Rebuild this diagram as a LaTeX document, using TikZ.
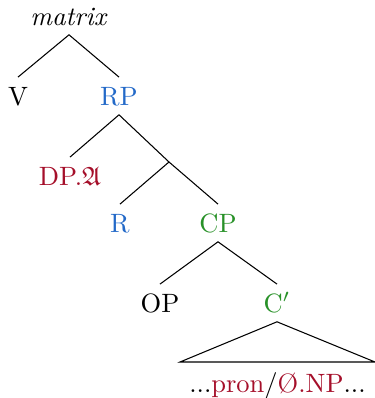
\documentclass[tikz,border=0pt]{standalone}
\usepackage{amssymb}
\definecolor{tblue}{RGB}{35,105,200}
\definecolor{tred}{RGB}{165,15,42}
\definecolor{tgreen}{RGB}{40,145,40}
\tikzset{
  lbl/.style={anchor=base,inner sep=3.5pt,text height=6.83pt,text depth=0pt},
  edge/.style={draw=black,line width=0.4pt}
}
\begin{document}
\begin{tikzpicture}[x=0.37736pt,y=-0.37736pt]
\useasboundingbox (0,0) rectangle (375,398);
\node[lbl] (matrix) at (69,25) {\textit{matrix}};
\node[lbl] (V) at (18,105) {V};
\node[lbl,text=tblue] (RP) at (119,105) {RP};
\node[lbl,text=tred] (DP) at (70,185) {DP.$\mathfrak{A}$};
\coordinate (Rbar) at (169,162);
\node[lbl,text=tblue] (R) at (120,232) {R};
\node[lbl,text=tgreen] (CP) at (218,232) {CP};
\node[lbl] (OP) at (160,312) {OP};
\node[lbl,text=tgreen] (Cbar) at (277,312) {C$'$};
\coordinate (triL) at (180,362);
\coordinate (triR) at (375,362);
\node[anchor=base,inner sep=0pt] (yield) at (277.5,392) {...\textcolor{tred}{pron}/\textcolor{tred}{\O.NP}...};
\draw[edge] (V.north) -- (matrix.south) -- (RP.north);
\draw[edge] (DP.north) -- (RP.south) -- (Rbar);
\draw[edge] (R.north) -- (Rbar) -- (CP.north);
\draw[edge] (OP.north) -- (CP.south) -- (Cbar.north);
\draw[edge] (Cbar.south) -- (triL) -- (triR) -- cycle;
\end{tikzpicture}
\end{document}
